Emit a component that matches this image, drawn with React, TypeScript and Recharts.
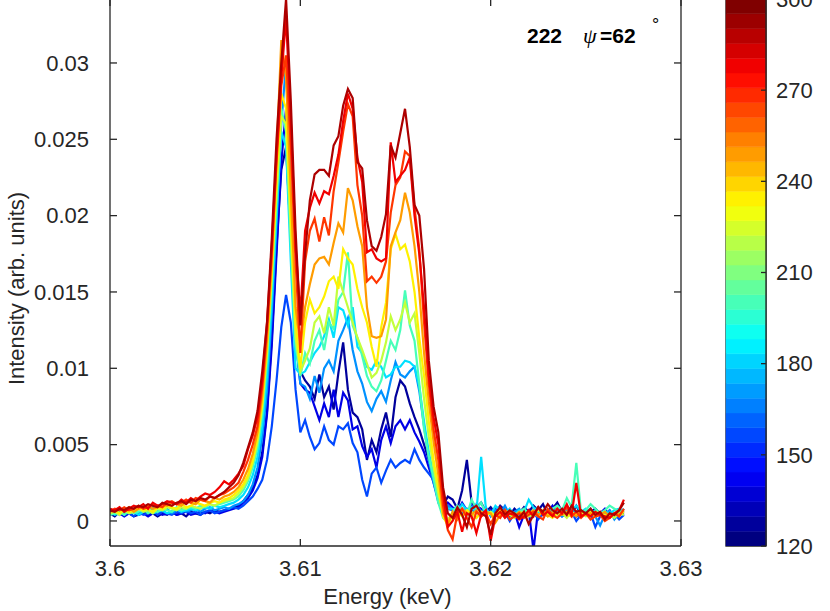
import {
  LineChart,
  BarChart,
  Bar,
  XAxis,
  YAxis,
  Line,
  ReferenceArea,
} from "recharts";

// energy grid (keV)
const energy = [
  3.6, 3.60025, 3.6005, 3.60075, 3.601, 3.60125, 3.6015, 3.60175,
  3.602, 3.60225, 3.6025, 3.60275, 3.603, 3.60325, 3.6035, 3.60375,
  3.604, 3.60425, 3.6045, 3.60475, 3.605, 3.60525, 3.6055, 3.60575,
  3.606, 3.60625, 3.6065, 3.60675, 3.607, 3.60725, 3.6075, 3.60775,
  3.608, 3.60825, 3.6085, 3.60875, 3.609, 3.60925, 3.6095, 3.60975,
  3.61, 3.61025, 3.6105, 3.61075, 3.611, 3.61125, 3.6115, 3.61175,
  3.612, 3.61225, 3.6125, 3.61275, 3.613, 3.61325, 3.6135, 3.61375,
  3.614, 3.61425, 3.6145, 3.61475, 3.615, 3.61525, 3.6155, 3.61575,
  3.616, 3.61625, 3.6165, 3.61675, 3.617, 3.61725, 3.6175, 3.61775,
  3.618, 3.61825, 3.6185, 3.61875, 3.619, 3.61925, 3.6195, 3.61975,
  3.62, 3.62025, 3.6205, 3.62075, 3.621, 3.62125, 3.6215, 3.62175,
  3.622, 3.62225, 3.6225, 3.62275, 3.623, 3.62325, 3.6235, 3.62375,
  3.624, 3.62425, 3.6245, 3.62475, 3.625, 3.62525, 3.6255, 3.62575,
  3.626, 3.62625, 3.6265, 3.62675, 3.627,
];

const temperatures = [125, 138, 155, 168, 182, 200, 222, 235, 250, 268, 280, 292];

const s125 = [
  0.0005, 0.0003, 0.0006, 0.0004, 0.0005, 0.0003, 0.0004, 0.0006, 0.0004, 0.0005, 0.0003, 0.0005, 0.0004, 0.0006,
  0.0004, 0.0005, 0.0003, 0.0006, 0.0005, 0.0004, 0.0006, 0.0005, 0.0007, 0.0006, 0.0007, 0.0008, 0.0009, 0.001,
  0.0013, 0.0017, 0.0022, 0.003, 0.0045, 0.0072, 0.012, 0.018, 0.023, 0.0245, 0.0185, 0.0125,
  0.0098, 0.0092, 0.0088, 0.008, 0.0096, 0.0081, 0.0088, 0.0073, 0.0097, 0.0117, 0.0086, 0.0071, 0.0068, 0.006,
  0.004, 0.0053, 0.0045, 0.006, 0.0071, 0.0055, 0.0081, 0.0092, 0.0088, 0.0077, 0.0068, 0.006, 0.005, 0.004,
  0.003, 0.0018, 0.001, 0.0016,
  0.0014, 0.0008, 0.002, 0.004, 0.0012, 0.0009, 0.0012, 0.0006, 0.0009, 0.0005, 0.001, 0.0007, 0.0004, 0.0008,
  0.0005, 0.0009, 0.0006, 0.001, 0.0007, 0.0011, 0.0004, 0.0008, 0.0012, 0.0006, 0.0009, 0.0005, 0.001, 0.0004,
  0.0007, 0.0006, 0.0008, 0.0005, 0.0004, 0.0007, 0.0003, 0.0006, 0.0005,
];
const s138 = [
  0.0004, 0.0006, 0.0005, 0.0003, 0.0005, 0.0006, 0.0004, 0.0005, 0.0003, 0.0005, 0.0006, 0.0004, 0.0005, 0.0006,
  0.0004, 0.0005, 0.0006, 0.0004, 0.0005, 0.0006, 0.0005, 0.0007, 0.0006, 0.0005, 0.0006, 0.0007, 0.0008, 0.0009,
  0.0012, 0.0015, 0.002, 0.0028, 0.0042, 0.007, 0.0115, 0.0175, 0.0235, 0.027, 0.019, 0.012,
  0.009, 0.0086, 0.0084, 0.0075, 0.0066, 0.0077, 0.0068, 0.0086, 0.0068, 0.0084, 0.0079, 0.006, 0.0062, 0.0049,
  0.0042, 0.0047, 0.0035, 0.0053, 0.0062, 0.0051, 0.0062, 0.0066, 0.006, 0.0066, 0.0058, 0.0052, 0.0045, 0.0035,
  0.0025, 0.0014, 0.0008, 0.0012,
  0.0009, 0.0006, 0.0012, 0.0007, 0.0005, 0.001, 0.0008, 0.0004, 0.0007, 0.0006, 0.0009, 0.0005, 0.0003, 0.0006,
  -0.0004, 0.0004, 0.0007, -0.0019, 0.0008, 0.0004, 0.0006, 0.001, 0.0005, 0.0007, 0.0004, 0.0008, 0.0003, 0.0005,
  0.0007, 0.0004, 0.0006, 0.0005, 0.0008, 0.0003, 0.0005, 0.0006, 0.0004,
];
const s155 = [
  0.0005, 0.0007, 0.0004, 0.0006, 0.0005, 0.0003, 0.0006, 0.0004, 0.0005, 0.0007, 0.0004, 0.0006, 0.0005, 0.0004,
  0.0006, 0.0005, 0.0007, 0.0005, 0.0006, 0.0004, 0.0006, 0.0007, 0.0005, 0.0006, 0.0007, 0.0008, 0.0009, 0.0008,
  0.001, 0.0013, 0.0016, 0.0021, 0.0027, 0.004, 0.0062, 0.0092, 0.0127, 0.0148, 0.013, 0.0086,
  0.0058, 0.0066, 0.0055, 0.0047, 0.0051, 0.0062, 0.0053, 0.005, 0.0062, 0.006, 0.0064, 0.0051, 0.0045, 0.0027,
  0.0016, 0.0031, 0.0035, 0.0025, 0.0033, 0.004, 0.0035, 0.0038, 0.004, 0.0038, 0.0047, 0.004, 0.0035, 0.0031,
  0.0027, 0.002, 0.0014, 0.0008,
  0.0007, 0.0004, 0.0008, 0.0005, 0.001, 0.0006, 0.0003, 0.0007, 0.0005, 0.0008, 0.0004, 0.0006, 0, 0.0005,
  0.0003, 0.0007, 0.0004, 0.0006, 0.0001, 0.0005, 0.0007, 0.0004, 0.0008, 0.0003, 0.0005, 0.0006, 0, 0.0004,
  0.0007, 0.0005, -0.0004, 0.0003, 0.0006, 0.0004, 0.0005, 0.0001, 0.0004,
];
const s168 = [
  0.0008, 0.0005, 0.0007, 0.0004, 0.0006, 0.0008, 0.0005, 0.0007, 0.0006, 0.0009, 0.0006, 0.0007, 0.0008, 0.0005,
  0.0007, 0.0008, 0.0006, 0.0007, 0.0008, 0.0006, 0.0008, 0.0009, 0.0007, 0.0008, 0.0009, 0.0008, 0.001, 0.0011,
  0.0013, 0.0017, 0.0024, 0.0035, 0.0055, 0.0085, 0.0135, 0.0195, 0.026, 0.03, 0.021, 0.012,
  0.009, 0.0088, 0.008, 0.0095, 0.0084, 0.01, 0.0105, 0.0098, 0.0118, 0.0125, 0.0133, 0.0112, 0.0098, 0.009,
  0.0078, 0.0072, 0.008, 0.0085, 0.0078, 0.0092, 0.0104, 0.0096, 0.0094, 0.0098, 0.0101, 0.0085, 0.0062, 0.004,
  0.0025, 0.0012, 0.0006, 0.001,
  0.0007, 0.001, 0.0005, 0.0008, 0.0004, 0.0011, 0.0006, 0.0009, 0.0003, 0.0007, 0.0005, 0.001, 0.0004, 0.0006,
  0.0008, 0.0003, 0.0005, 0.0007, 0.0009, 0.0004, 0.0006, 0.0008, 0.0005, 0.0003, 0.0007, 0.0009, 0.0004, 0.0006,
  0.0005, 0.0008, 0.0003, -0.0003, 0.0004, 0.0007, 0.0001, 0.0005, 0.0008,
];
const s182 = [
  0.0006, 0.0004, 0.0005, 0.0007, 0.0005, 0.0006, 0.0004, 0.0006, 0.0007, 0.0005, 0.0006, 0.0007, 0.0005, 0.0006,
  0.0008, 0.0006, 0.0007, 0.0008, 0.0007, 0.0008, 0.0009, 0.0008, 0.001, 0.0009, 0.001, 0.0011, 0.0012, 0.0014,
  0.0017, 0.0022, 0.003, 0.0042, 0.0062, 0.0095, 0.0145, 0.02, 0.0255, 0.0245, 0.017, 0.01,
  0.0096, 0.0098, 0.0104, 0.011, 0.0114, 0.0121, 0.0132, 0.012, 0.014, 0.0138, 0.0128, 0.014, 0.0114, 0.011,
  0.0101, 0.0099, 0.0105, 0.0101, 0.0094, 0.0096, 0.0101, 0.0101, 0.0105, 0.0104, 0.0101, 0.0088, 0.0065, 0.0045,
  0.003, 0.0015, 0.0004, 0.0008,
  0.0008, 0.0005, 0.0011, 0.0007, 0.0009, 0.0006, 0.0042, 0.0008, 0.0004, 0.001, 0.0007, 0.0005, 0.0008, 0.0004,
  0.0007, 0.0006, 0.0014, 0.0009, 0.0006, 0.0005, 0.0007, 0.0004, 0.0008, 0.0006, 0.0005, 0.0007, 0.001, 0.0006,
  0.0008, 0.0005, 0.0007, 0.0004, 0.0006, 0.0005, 0.0007, 0.0008, 0.0006,
];
const s200 = [
  0.0004, 0.0005, 0.0006, 0.0004, 0.0007, 0.0005, 0.0006, 0.0008, 0.0005, 0.0007, 0.0006, 0.0008, 0.0007, 0.0006,
  0.0009, 0.0007, 0.0008, 0.0009, 0.0008, 0.001, 0.0009, 0.0011, 0.001, 0.0011, 0.0012, 0.0013, 0.0014, 0.0016,
  0.002, 0.0026, 0.0035, 0.0048, 0.007, 0.0105, 0.0155, 0.021, 0.027, 0.0255, 0.018, 0.0115,
  0.0095, 0.011, 0.0103, 0.0118, 0.0125, 0.0112, 0.013, 0.0126, 0.0145, 0.015, 0.0176, 0.0128, 0.012, 0.0108,
  0.0095, 0.0088, 0.0085, 0.0092, 0.0105, 0.0118, 0.0112, 0.0125, 0.0151, 0.0128, 0.0118, 0.009, 0.006, 0.0042,
  0.0028, 0.0012, 0.0002, -0.0001,
  0.0006, 0.001, 0.0007, 0.0004, 0.0014, 0.0008, 0.0012, 0.0005, 0.0006, 0.0004, 0.0007, 0.0003, 0.0005, 0.0004,
  0.0006, 0.0008, 0.0005, 0.0007, 0.0004, 0.0006, 0.0005, 0.0008, 0.001, 0.0007, 0.0015, 0.0009, 0.0038, 0.0005,
  0.0007, 0.0011, 0.0008, 0.0005, 0.0007, 0.001, 0.0008, 0.0006, 0.0007,
];
const s222 = [
  0.0005, 0.0006, 0.0004, 0.0007, 0.0005, 0.0006, 0.0008, 0.0006, 0.0007, 0.0005, 0.0008, 0.0007, 0.0009, 0.0008,
  0.0007, 0.0009, 0.0008, 0.001, 0.0009, 0.0008, 0.001, 0.0011, 0.001, 0.0012, 0.0013, 0.0014, 0.0015, 0.0018,
  0.0022, 0.0028, 0.0038, 0.0052, 0.0075, 0.011, 0.016, 0.0215, 0.0265, 0.026, 0.019, 0.012,
  0.0098, 0.0105, 0.0113, 0.013, 0.0134, 0.0123, 0.014, 0.0128, 0.016, 0.015, 0.014, 0.013, 0.012, 0.0112,
  0.0103, 0.0094, 0.0097, 0.0105, 0.0117, 0.0134, 0.0125, 0.0132, 0.0143, 0.013, 0.0136, 0.011, 0.008, 0.0055,
  0.0035, 0.0018, 0.0005, 0.0001,
  0.0005, 0.0003, 0.0007, 0.0004, 0.0006, 0.0002, 0.0005, 0.0004, 0.0006, 0.0003, 0.0005, 0.0007, 0.0004, 0.0002,
  0.0005, 0.0006, 0.0003, 0.0004, 0.0007, 0.0005, 0.0003, 0.0006, 0.0004, 0.0005, 0.0002, 0.0006, 0.0004, 0.0005,
  0.0003, 0.0004, 0.0006, 0.0005, 0.0003, 0.0004, 0.0002, 0.0005, 0.0004,
];
const s235 = [
  0.0006, 0.0007, 0.0005, 0.0008, 0.0006, 0.0007, 0.0009, 0.0007, 0.0008, 0.0006, 0.0009, 0.0008, 0.001, 0.0009,
  0.0008, 0.0011, 0.0009, 0.001, 0.0012, 0.0011, 0.001, 0.0012, 0.0013, 0.0012, 0.0014, 0.0015, 0.0017, 0.002,
  0.0024, 0.003, 0.004, 0.0055, 0.0078, 0.0115, 0.0165, 0.0225, 0.028, 0.027, 0.02, 0.013,
  0.01, 0.013, 0.0145, 0.0136, 0.014, 0.0147, 0.0157, 0.016, 0.0152, 0.0178, 0.0172, 0.0168, 0.0152, 0.014,
  0.013, 0.0114, 0.0101, 0.0127, 0.0143, 0.0178, 0.0188, 0.0178, 0.0181, 0.017, 0.015, 0.012, 0.0095, 0.0065,
  0.004, 0.0022, 0.0003, -0.0003,
  0.0004, 0.0006, 0.0003, 0.0007, 0.0005, 0.0002, 0.0006, 0.0004, 0.0005, 0.0003, 0.0007, 0.0004, 0.0006, 0.0005,
  0.0002, 0.0004, 0.0006, 0.0005, 0.0003, 0.0007, 0.0004, 0.0002, 0.0005, 0.0006, 0.0004, 0.0003, 0.0005, 0.0007,
  0.0004, 0.0006, 0.0003, 0.0005, 0.0004, 0.0002, 0.0005, 0.0004, 0.0006,
];
const s250 = [
  0.0007, 0.0006, 0.0008, 0.0007, 0.0009, 0.0006, 0.0008, 0.0009, 0.001, 0.0008, 0.0009, 0.0011, 0.001, 0.0012,
  0.0011, 0.001, 0.0013, 0.0012, 0.0011, 0.0014, 0.0013, 0.0012, 0.0015, 0.0014, 0.0016, 0.0017, 0.0019, 0.0022,
  0.0027, 0.0034, 0.0044, 0.0058, 0.0082, 0.0118, 0.017, 0.024, 0.0315, 0.029, 0.0215, 0.014,
  0.0115, 0.014, 0.0155, 0.0168, 0.0172, 0.0173, 0.0168, 0.0182, 0.0195, 0.0189, 0.0218, 0.021, 0.0193, 0.018,
  0.014, 0.0121, 0.012, 0.0121, 0.0132, 0.018, 0.0189, 0.0197, 0.0215, 0.0202, 0.018, 0.015, 0.011, 0.0078,
  0.0052, 0.003, 0.0005, -0.0002,
  0.0006, 0.0001, 0.0008, 0.0005, 0.0004, 0.0007, 0.0003, 0.0006, 0.0005, -0.0001, 0.0004, 0.0007, 0.0005, 0.0003,
  0.0006, 0.0004, 0.0005, 0.0007, 0.0004, 0.0006, 0.0003, 0.0005, 0.0008, 0.0004, 0.0006, 0.0005, 0.0003, 0.0007,
  0.0004, 0.0005, 0.0003, 0.0004, 0.0006, 0.0003, 0.0005, 0.0004, 0.0007,
];
const s268 = [
  0.0006, 0.0008, 0.0007, 0.0009, 0.0007, 0.0008, 0.001, 0.0008, 0.0009, 0.0011, 0.001, 0.0009, 0.0012, 0.0013,
  0.0011, 0.0012, 0.0014, 0.0012, 0.0015, 0.0014, 0.0013, 0.0016, 0.0015, 0.0017, 0.0018, 0.002, 0.0022, 0.0025,
  0.0032, 0.004, 0.005, 0.0062, 0.0088, 0.0125, 0.0175, 0.0235, 0.0285, 0.0305, 0.0245, 0.017,
  0.011, 0.017, 0.019, 0.0198, 0.0183, 0.0199, 0.0187, 0.0216, 0.0235, 0.0255, 0.0273, 0.0265, 0.022, 0.02,
  0.0157, 0.016, 0.0156, 0.016, 0.017, 0.0202, 0.022, 0.0225, 0.0242, 0.0239, 0.0205, 0.0178, 0.013, 0.009,
  0.006, 0.004, 0.001, -0.0006,
  -0.0012, 0.0005, 0.0008, 0.0002, -0.0004, 0.0006, 0.0003, 0.0005, -0.0002, 0.0004, 0.0002, 0.0007, 0.0001, 0.0003,
  0.0005, 0.0002, 0.0004, 0.0006, 0.0003, 0.0001, 0.0008, 0.0004, 0.0002, 0.0005, 0.0009, 0.0003, 0.0006, 0.0002,
  0.0005, 0.0001, 0.0003, 0.0004, 0, 0.0002, 0.0005, 0.0003, 0.0008,
];
const s280 = [
  0.0008, 0.0007, 0.0009, 0.0006, 0.0008, 0.001, 0.0009, 0.0011, 0.0008, 0.0012, 0.001, 0.0011, 0.0013, 0.0012,
  0.0011, 0.0014, 0.0012, 0.0015, 0.0013, 0.0016, 0.0018, 0.0017, 0.0019, 0.0022, 0.0026, 0.0024, 0.0027, 0.0031,
  0.0036, 0.0047, 0.0056, 0.0068, 0.0092, 0.013, 0.018, 0.024, 0.029, 0.033, 0.0262, 0.018,
  0.0135, 0.019, 0.0205, 0.0215, 0.0208, 0.0216, 0.0214, 0.0226, 0.024, 0.0262, 0.028, 0.027, 0.0238, 0.0222,
  0.0176, 0.0178, 0.0172, 0.017, 0.0172, 0.0248, 0.0222, 0.0226, 0.023, 0.0238, 0.02, 0.0175, 0.014, 0.0095,
  0.0068, 0.005, 0.0018, -0.0004,
  0, 0.0006, -0.0007, 0.0005, 0.0003, -0.0008, 0.0004, 0.0007, -0.0013, 0.0003, 0.0006, 0.0002, 0.0005, 0.0004,
  0.0001, 0.0003, 0.0007, 0.0003, 0.0009, 0.0004, 0.0006, 0.0003, 0.0008, 0.0005, 0.0011, 0.0004, 0.0025, 0.0003,
  0.0005, 0.0003, 0.0006, 0.0004, 0.0003, 0.0002, 0.0005, 0.0007, 0.0014,
];
const s292 = [
  0.0007, 0.0006, 0.0008, 0.0007, 0.0009, 0.0008, 0.001, 0.0009, 0.0011, 0.001, 0.0009, 0.0012, 0.0011, 0.001,
  0.0012, 0.0013, 0.0011, 0.0014, 0.0013, 0.0015, 0.0014, 0.0016, 0.0015, 0.0017, 0.0019, 0.0022, 0.0025, 0.003,
  0.0038, 0.0048, 0.0058, 0.0072, 0.0098, 0.013, 0.0185, 0.025, 0.03, 0.0342, 0.0275, 0.019,
  0.0128, 0.0175, 0.021, 0.0227, 0.023, 0.023, 0.0226, 0.0246, 0.0252, 0.0272, 0.0283, 0.0277, 0.0235, 0.0231,
  0.0197, 0.018, 0.0177, 0.0186, 0.0201, 0.0246, 0.0238, 0.0254, 0.027, 0.0245, 0.0207, 0.02, 0.0165, 0.0105,
  0.0075, 0.0058, 0.0022, 0.0005,
  0.0002, 0.0009, 0.0004, -0.0004, 0.0008, 0.001, 0.0005, 0.0003, -0.0009, 0.0005, 0.0009, 0.0004, 0.0007, 0.0005,
  0.0002, 0.0006, -0.0002, 0.0004, 0.0009, 0.0006, 0.0011, 0.0007, 0.0005, 0.0008, 0.0004, 0.001, 0.0006, 0.0007,
  0.0005, 0.0008, 0.0004, 0.0006, 0.0001, 0.0005, 0.0004, 0.0007, 0.0012,
];

const spectra = [s125, s138, s155, s168, s182, s200, s222, s235, s250, s268, s280, s292];

const xTicks = [3.6, 3.61, 3.62, 3.63];
const yTicks = [0, 0.005, 0.01, 0.015, 0.02, 0.025, 0.03];
const cbarTicks = [120, 150, 180, 210, 240, 270, 300];

const X_DOMAIN = [3.6, 3.63];
const Y_DOMAIN = [-0.00164, 0.03419];
const T_MIN = 120;
const T_MAX = 300;
const BANDS = 37;

const FONT = '"Liberation Sans", Arial, Helvetica, sans-serif';
const AXIS = "#262626";
const tickStyle = { fill: AXIS, fontSize: 22, fontFamily: FONT };

// matlab jet colormap
const jet = (t: number) => {
  const c = (v: number) => Math.round(255 * Math.max(0, Math.min(1, v)));
  const r = c(1.5 - Math.abs(4 * t - 3));
  const g = c(1.5 - Math.abs(4 * t - 2));
  const b = c(1.5 - Math.abs(4 * t - 1));
  return `rgb(${r},${g},${b})`;
};
const tempColor = (t: number) => jet((t - T_MIN) / (T_MAX - T_MIN));

const rows = energy.map((e, i) => {
  const row: Record<string, number> = { e };
  temperatures.forEach((t, k) => {
    row[`t${t}`] = spectra[k][i];
  });
  return row;
});

// colorbar: one stacked bar, an invisible base up to T_MIN, then the colour bands
const bandStep = (T_MAX - T_MIN) / BANDS;
const bandKeys = Array.from({ length: BANDS }, (_, k) => `b${k}`);
const cbarRow: Record<string, number | string> = { name: "cbar", base: T_MIN };
bandKeys.forEach((key) => {
  cbarRow[key] = bandStep;
});

const YTitle = (props: any) => {
  const vb = props.viewBox || { x: 0, y: 0, height: 0 };
  const cx = vb.x + 24;
  const cy = vb.y + vb.height / 2 + 16;
  return (
    <text
      x={cx}
      y={cy}
      transform={`rotate(-90, ${cx}, ${cy})`}
      textAnchor="middle"
      fill={AXIS}
      fontSize={22}
      fontFamily={FONT}
    >
      Intensity (arb. units)
    </text>
  );
};

const XTitle = (props: any) => {
  const vb = props.viewBox || { x: 0, y: 0, width: 0 };
  const cx = vb.x + vb.width / 2 - 8;
  return (
    <text x={cx} y={vb.y + 58} textAnchor="middle" fill={AXIS} fontSize={22} fontFamily={FONT}>
      Energy (keV)
    </text>
  );
};

const Annotation = (props: any) => {
  const vb = props.viewBox || { x: 0, y: 0 };
  const x0 = vb.x + 417;
  const y0 = vb.y + 45;
  return (
    <text fill="#000" fontSize={21} fontFamily={FONT}>
      <tspan x={x0} y={y0} fontWeight="bold">
        222
      </tspan>
      <tspan x={x0 + 56} y={y0} fontFamily='"Liberation Serif", serif' fontStyle="italic" fontSize={22}>
        ψ
      </tspan>
      <tspan x={x0 + 73} y={y0} fontWeight="bold">
        =62
      </tspan>
      <tspan x={x0 + 125} y={y0 - 12} fontSize={18}>
        °
      </tspan>
    </text>
  );
};

const App = () => {
  const last = temperatures[temperatures.length - 1];
  return (
    <div style={{ position: "absolute", left: 0, top: -20, width: 830, height: 631 }}>
      <div style={{ position: "absolute", left: 0, top: 0 }}>
        <LineChart
          width={830}
          height={631}
          data={rows}
          margin={{ top: 18, right: 0, bottom: 0, left: 0 }}
        >
          <XAxis
            dataKey="e"
            type="number"
            domain={X_DOMAIN}
            ticks={xTicks}
            interval={0}
            allowDataOverflow
            height={65}
            tickSize={-7}
            tickMargin={21}
            stroke={AXIS}
            strokeWidth={1.3}
            tick={tickStyle}
            label={<XTitle />}
          />
          <XAxis
            xAxisId="top"
            dataKey="e"
            orientation="top"
            type="number"
            domain={X_DOMAIN}
            ticks={xTicks}
            interval={0}
            allowDataOverflow
            height={1}
            tickSize={-7}
            stroke={AXIS}
            strokeWidth={1.3}
            tickFormatter={() => ""}
            label={<Annotation />}
          />
          <YAxis
            type="number"
            domain={Y_DOMAIN}
            ticks={yTicks}
            interval={0}
            allowDataOverflow
            width={110}
            tickSize={-7}
            tickMargin={28}
            stroke={AXIS}
            strokeWidth={1.3}
            tick={tickStyle}
            label={<YTitle />}
          />
          <YAxis
            yAxisId="right"
            orientation="right"
            type="number"
            domain={Y_DOMAIN}
            ticks={yTicks}
            interval={0}
            allowDataOverflow
            width={149}
            tickSize={-7}
            stroke={AXIS}
            strokeWidth={1.3}
            tickFormatter={() => ""}
          />
          {temperatures.map((t) => (
            <Line
              key={t}
              type="linear"
              dataKey={`t${t}`}
              xAxisId={t === last ? "top" : 0}
              yAxisId={t === last ? "right" : 0}
              stroke={tempColor(t)}
              strokeWidth={2.2}
              dot={false}
              activeDot={false}
              isAnimationActive={false}
            />
          ))}
        </LineChart>
      </div>
      <div style={{ position: "absolute", left: 700, top: 0 }}>
        <BarChart
          width={130}
          height={631}
          data={[cbarRow]}
          barCategoryGap={0}
          barGap={0}
          margin={{ top: 19, right: 0, bottom: 65, left: 26 }}
        >
          <XAxis dataKey="name" hide />
          <YAxis
            orientation="right"
            type="number"
            domain={[T_MIN, T_MAX]}
            ticks={cbarTicks}
            interval={0}
            allowDataOverflow
            width={64}
            tickSize={-5}
            tickMargin={15}
            stroke={AXIS}
            strokeWidth={1.3}
            tick={tickStyle}
          />
          <Bar dataKey="base" stackId="c" fill="none" isAnimationActive={false} />
          {bandKeys.map((key, k) => (
            <Bar
              key={key}
              dataKey={key}
              stackId="c"
              fill={jet(k / (BANDS - 1))}
              stroke={jet(k / (BANDS - 1))}
              strokeWidth={0.5}
              isAnimationActive={false}
            />
          ))}
          <ReferenceArea y1={T_MIN} y2={T_MAX} fill="none" stroke={AXIS} strokeWidth={1.3} />
        </BarChart>
      </div>
    </div>
  );
};

export default App;
